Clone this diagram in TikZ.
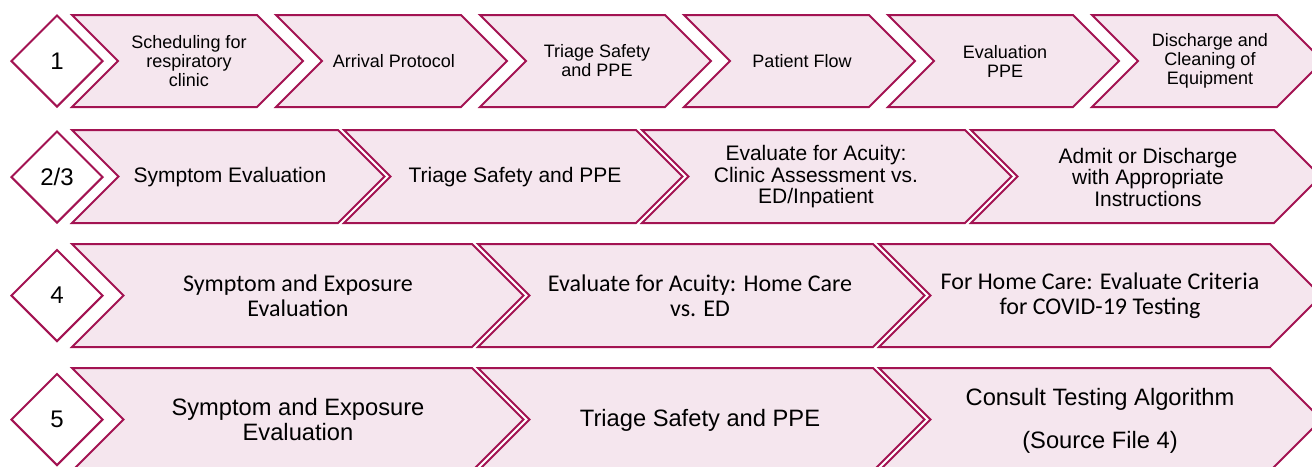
\documentclass[tikz,border=0pt]{standalone}
\usepackage{fontspec}
\setmainfont{Liberation Sans}
\newfontfamily\calibri{Carlito}
\usetikzlibrary{shapes.geometric}
\definecolor{edgec}{RGB}{163,19,82}
\definecolor{pinkfill}{RGB}{245,230,238}
\tikzset{
  chev/.style={draw=edgec, fill=pinkfill, line width=2pt, line join=miter},
  dia/.style={diamond, draw=edgec, fill=white, line width=2pt, minimum width=92pt, minimum height=92pt, inner sep=0pt, font=\fontsize{24}{26}\selectfont},
  lbl/.style={align=center, inner sep=0pt, text=black},
  rowA/.style={lbl, font=\fontsize{18}{19}\selectfont},
  rowB/.style={lbl, font=\fontsize{21}{21.5}\selectfont},
  rowC/.style={lbl, font=\calibri\fontsize{24}{25}\selectfont},
  rowD/.style={lbl, font=\fontsize{23.7}{25}\selectfont},
}
% \chevshape{left}{right}{top}{bottom}
\newcommand{\chevshape}[4]{%
  \pgfmathsetmacro\hh{(#4-#3)/2}%
  \pgfmathsetmacro\mm{(#4+#3)/2}%
  \draw[chev] (#1,#3) -- (#2,#3) -- ({#2+\hh},\mm) -- (#2,#4) -- (#1,#4) -- ({#1+\hh},\mm) -- cycle;}
\begin{document}
\begin{tikzpicture}[x=1pt,y=-1pt]
\useasboundingbox (0,0) rectangle (1312,466);
\begin{scope}
\clip (0,0) rectangle (1312,466);
% Row 1
\foreach \L in {72,276,480,684,888,1092}{\chevshape{\L}{\L+185}{15}{107}}
% Row 2
\chevshape{72}{338}{130}{223}
\chevshape{344}{636}{130}{223}
\chevshape{642}{965}{130}{223}
\chevshape{971}{1274}{130}{223}
% Row 3
\chevshape{72}{472}{244}{347}
\chevshape{478}{873}{244}{347}
\chevshape{879}{1270}{244}{347}
% Row 4
\chevshape{72}{472}{368}{471}
\chevshape{478}{873}{368}{471}
\chevshape{879}{1270}{368}{471}
% Diamonds
\node[dia] (d1) at (57,61) {1};
\node[dia] (d2) at (57,177) {2/3};
\node[dia, font=\calibri\fontsize{26}{28}\selectfont] (d3) at (57,295.5) {4};
\node[dia] (d4) at (57,419.5) {5};
% Row 1 labels
\node[rowA] (a1) at (189,61) {Scheduling for\\respiratory\\clinic};
\node[rowA] (a2) at (394,61) {Arrival Protocol};
\node[rowA] (a3) at (597,61) {Triage Safety\\and PPE};
\node[rowA] (a4) at (802,61) {Patient Flow};
\node[rowA] (a5) at (1005,61) {Evaluation\\PPE};
\node[rowA] (a6) at (1210,61) {Discharge and\\Cleaning of\\Equipment};
% Row 2 labels
\node[rowB] (b1) at (230,177) {Symptom Evaluation};
\node[rowB] (b2) at (515,177) {Triage Safety and PPE};
\node[rowB] (b3) at (816,177) {Evaluate for Acuity:\\Clinic Assessment vs.\\ED/Inpatient};
\node[rowB] (b4) at (1148,177) {Admit or Discharge\\with Appropriate\\Instructions};
% Row 3 labels
\node[rowC] (c1) at (298,296) {Symptom and Exposure\\Evaluation};
\node[rowC] (c2) at (700,296) {Evaluate for Acuity: Home Care\\vs. ED};
\node[rowC] (c3) at (1100,296) {For Home Care: Evaluate Criteria\\for COVID-19 Testing};
% Row 4 labels
\node[rowD] (e1) at (298,420) {Symptom and Exposure\\Evaluation};
\node[rowD] (e2) at (700,420) {Triage Safety and PPE};
\node[rowD, font=\fontsize{23.7}{43}\selectfont] (e3) at (1100,421) {Consult Testing Algorithm\\(Source File 4)};
\end{scope}
\end{tikzpicture}
\end{document}
